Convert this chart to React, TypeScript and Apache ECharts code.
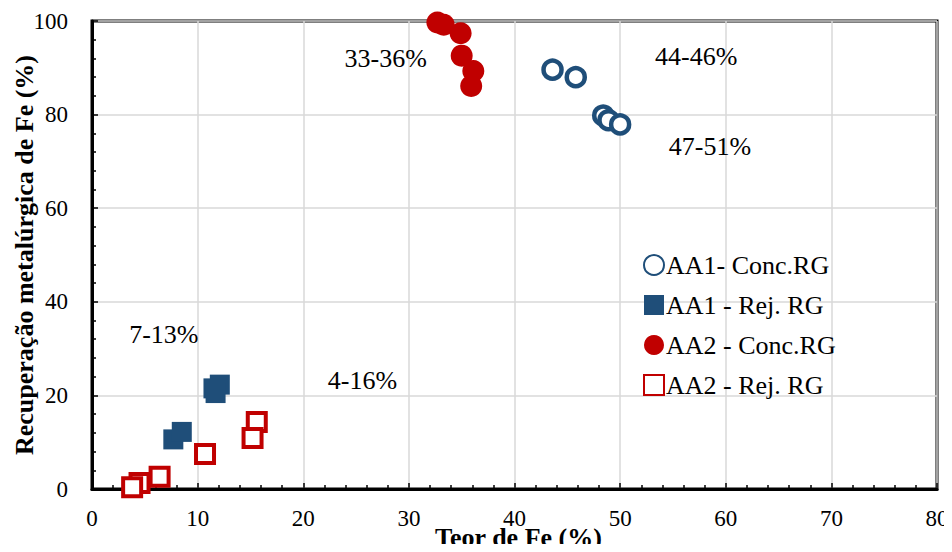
import React, { useEffect, useRef } from "react";
import * as echarts from "echarts";

const seriesNames = ["AA1- Conc.RG", "AA1 - Rej. RG", "AA2 - Conc.RG", "AA2 - Rej. RG"];

const aa1Conc: number[][] = [
  [43.6, 89.6],
  [45.8, 88.0],
  [48.4, 79.8],
  [48.9, 78.8],
  [50.0, 77.9],
];
const aa1Rej: number[][] = [
  [11.5, 21.5],
  [12.1, 22.3],
  [11.7, 20.5],
  [7.7, 10.6],
  [8.5, 12.2],
];
const aa2Conc: number[][] = [
  [32.7, 99.7],
  [33.3, 99.2],
  [34.9, 97.4],
  [35.0, 92.6],
  [36.1, 89.3],
  [35.9, 86.1],
];
const aa2Rej: number[][] = [
  [15.6, 14.3],
  [15.2, 10.9],
  [10.7, 7.5],
  [6.4, 2.6],
  [4.5, 1.3],
  [3.8, 0.4],
];

const annotations = ["33-36%", "44-46%", "47-51%", "7-13%", "4-16%"];
const annotationAt: number[][] = [
  [27.8, 91.9],
  [57.2, 92.5],
  [58.5, 73.2],
  [6.8, 33.0],
  [25.6, 23.1],
];

const BLUE = "#1F4E79";
const RED = "#C00000";
const FONT = "Liberation Serif";

export default function App() {
  const ref = useRef<HTMLDivElement>(null);
  useEffect(() => {
    if (!ref.current) return;
    const chart = echarts.init(ref.current, null, { renderer: "svg" });
    const axisCommon = {
      axisLine: { show: true, onZero: false, lineStyle: { color: "#000", width: 3 } },
      axisTick: { show: true, inside: true, length: 6, lineStyle: { color: "#000", width: 1.5 } },
      minorTick: { show: true, splitNumber: 5, length: 4, lineStyle: { color: "#000", width: 1.5 } },
      splitLine: { show: true, lineStyle: { color: "#d9d9d9", width: 1.5 } },
      axisLabel: { color: "#000", fontFamily: FONT, fontSize: 23 },
      nameTextStyle: { color: "#000", fontFamily: FONT, fontSize: 26, fontWeight: "bold" },
      nameMoveOverlap: false,
    };
    chart.setOption({
      animation: false,
      backgroundColor: "#fff",
      textStyle: { fontFamily: FONT },
      grid: {
        left: 92,
        right: 15,
        top: 21,
        bottom: 63,
        show: true,
        borderColor: "#000",
        borderWidth: 3,
        containLabel: false,
        outerBoundsMode: "none",
      },
      xAxis: {
        type: "value",
        min: 0,
        max: 80,
        interval: 10,
        name: "Teor de Fe (%)",
        nameLocation: "middle",
        nameGap: 35,
        ...axisCommon,
        nameTextStyle: { ...axisCommon.nameTextStyle, padding: [0, 0, 0, 8] },
        axisLabel: { ...axisCommon.axisLabel, margin: 18 },
      },
      yAxis: {
        type: "value",
        min: 0,
        max: 100,
        interval: 20,
        name: "Recuperação metalúrgica de Fe (%)",
        nameLocation: "middle",
        nameGap: 55,
        ...axisCommon,
        axisLabel: { ...axisCommon.axisLabel, margin: 24 },
      },
      legend: {
        orient: "vertical",
        left: 638,
        top: 247,
        itemWidth: 20,
        itemHeight: 20,
        itemGap: 14,
        textStyle: { color: "#000", fontFamily: FONT, fontSize: 26, padding: [0, 0, 0, -3] },
        data: seriesNames,
      },
      series: [
        {
          name: seriesNames[0],
          type: "scatter",
          symbol: "circle",
          symbolSize: 18,
          itemStyle: { color: "#fff", borderColor: BLUE, borderWidth: 4.5, opacity: 1 },
          data: aa1Conc,
          z: 3,
        },
        {
          name: seriesNames[1],
          type: "scatter",
          symbol: "rect",
          symbolSize: 20,
          itemStyle: { color: BLUE, opacity: 1 },
          data: aa1Rej,
          z: 3,
        },
        {
          name: seriesNames[2],
          type: "scatter",
          symbol: "circle",
          symbolSize: 22,
          itemStyle: { color: RED, opacity: 1 },
          data: aa2Conc,
          z: 3,
        },
        {
          name: seriesNames[3],
          type: "scatter",
          symbol: "rect",
          symbolSize: 18,
          itemStyle: { color: "#fff", borderColor: RED, borderWidth: 4, opacity: 1 },
          data: aa2Rej,
          z: 3,
        },
      ],
    });
    const graphics = annotations.map((t, i) => {
      const [px, py] = chart.convertToPixel({ gridIndex: 0 }, annotationAt[i]) as number[];
      return {
        type: "text",
        x: px,
        y: py,
        style: {
          text: t,
          fontFamily: FONT,
          fontSize: 26,
          fill: "#000",
          align: "center",
          verticalAlign: "middle",
        },
        z: 10,
      };
    });
    chart.setOption({ graphic: graphics });
    return () => chart.dispose();
  }, []);
  return <div ref={ref} style={{ width: 952, height: 552, margin: -8 }} />;
}
